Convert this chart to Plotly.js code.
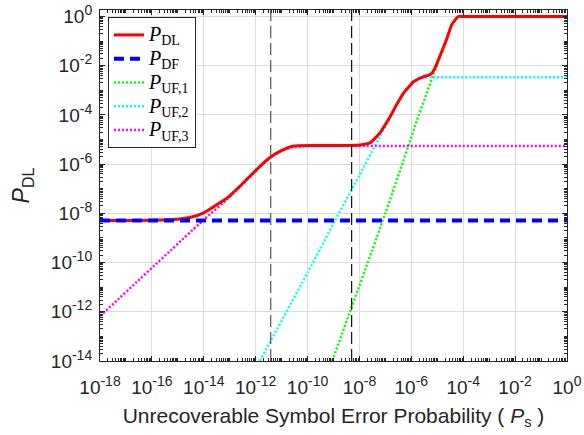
<!DOCTYPE html>
<html>
<head>
<meta charset="utf-8">
<script src="https://cdn.plot.ly/plotly-3.0.1.min.js"></script>
<style>html,body{margin:0;padding:0;background:#fff;}#chart{width:584px;height:435px;}</style>
</head>
<body>
<div id="chart"></div>
<script>
// ---- data ----
const psDL = [1e-18, 1e-17, 1e-16, 1e-15, 3.16e-15, 1e-14, 3.16e-14, 8.32e-14, 2.45e-13, 6.31e-13, 1.45e-12, 3.47e-12, 8.51e-12, 2.69e-11, 1.58e-10, 1e-9, 1.05e-8, 2.57e-8, 6.17e-8, 1.29e-7, 2.82e-7, 4.90e-7, 8.91e-7, 1.20e-6, 2.88e-6, 4.47e-6, 6.17e-6, 7.94e-6, 9.55e-6, 2.19e-5, 3.63e-5, 6.46e-5, 1e-4, 1];
const pDL  = [5.13e-9, 5.13e-9, 5.25e-9, 5.75e-9, 6.9e-9, 1.05e-8, 2.24e-8, 4.37e-8, 1.26e-7, 3.39e-7, 8.13e-7, 1.82e-6, 3.31e-6, 5.37e-6, 5.75e-6, 5.75e-6, 6.03e-6, 7.41e-6, 1.86e-5, 6.31e-5, 2.82e-4, 7.59e-4, 1.58e-3, 2.24e-3, 3.55e-3, 4.07e-3, 4.9e-3, 7.6e-3, 1.2e-2, 0.105, 0.468, 1, 1, 1];

const psDF = [1e-18, 1];
const pDF  = [5.13e-9, 5.13e-9];

const psUF1 = [8.91e-10, 7.94e-8, 7.59e-7, 1.62e-6, 1.10e-5, 2.19e-5, 3.63e-5, 5.62e-5, 7.94e-5, 1];
const pUF1  = [1e-14, 5.13e-9, 5.25e-6, 5.75e-5, 1.51e-2, 9.77e-2, 0.457, 0.891, 1, 1];

const psUF2 = [1.45e-12, 1e-10, 1.15e-9, 1e-8, 6.17e-8, 1.29e-7, 2.82e-7, 4.90e-7, 8.91e-7, 1.20e-6, 1.78e-6, 2.88e-6, 6.31e-6, 1];
const pUF2  = [1e-14, 3.89e-11, 5.13e-9, 3.55e-7, 1.32e-5, 5.75e-5, 2.88e-4, 7.41e-4, 1.45e-3, 2.09e-3, 2.88e-3, 3.31e-3, 3.39e-3, 3.39e-3];

const psUF3 = [1e-18, 1e-14, 8.32e-14, 2.45e-13, 6.31e-13, 1.45e-12, 3.47e-12, 8.51e-12, 2.69e-11, 1e-10, 1e-9, 1];
const pUF3  = [6.61e-13, 5.5e-9, 3.89e-8, 1.2e-7, 3.24e-7, 7.94e-7, 1.78e-6, 3.24e-6, 5.01e-6, 5.37e-6, 5.5e-6, 5.5e-6];

const markerPs = [3.8e-12, 5.0e-9];

const xTickVals = [1e-18, 1e-16, 1e-14, 1e-12, 1e-10, 1e-8, 1e-6, 1e-4, 1e-2, 1];
const xTickExp  = ['-18', '-16', '-14', '-12', '-10', '-8', '-6', '-4', '-2', '0'];
const yTickVals = [1e-14, 1e-12, 1e-10, 1e-8, 1e-6, 1e-4, 1e-2, 1];
const yTickExp  = ['-14', '-12', '-10', '-8', '-6', '-4', '-2', '0'];

const seriesNames = ['DL', 'DF', 'UF,1', 'UF,2', 'UF,3'];

// ---- helpers for text ----
const powLabel = e => '10<sup><span style="font-size:14px">' + e + '</span></sup>';
const legName = s => '<span style="font-size:20px"><i>P</i><sub>' + s + '</sub></span>';

// ---- traces ----
const dotted = '2px,2px';
const traces = [
  {x: psUF1, y: pUF1, name: legName(seriesNames[2]), legendrank: 3, mode: 'lines', line: {color: '#00ff00', width: 2.5, dash: dotted, shape: 'spline', smoothing: 0.4}},
  {x: psUF2, y: pUF2, name: legName(seriesNames[3]), legendrank: 4, mode: 'lines', line: {color: '#00ffff', width: 2.5, dash: dotted, shape: 'spline', smoothing: 0.4}},
  {x: psUF3, y: pUF3, name: legName(seriesNames[4]), legendrank: 5, mode: 'lines', line: {color: '#ff00ff', width: 2.5, dash: dotted, shape: 'spline', smoothing: 0.4}},
  {x: psDL, y: pDL, name: legName(seriesNames[0]), legendrank: 1, mode: 'lines', line: {color: '#ff0000', width: 3, shape: 'spline', smoothing: 0.5}},
  {x: psDF, y: pDF, name: legName(seriesNames[1]), legendrank: 2, mode: 'lines', line: {color: '#0000ff', width: 4, dash: '10px,6px'}}
];

const axisCommon = {
  type: 'log',
  tickmode: 'array',
  showline: true, linecolor: '#262626', linewidth: 1, mirror: 'allticks',
  ticks: 'inside', ticklen: 5, tickcolor: '#262626',
  showgrid: true, gridcolor: '#dcdcdc', gridwidth: 1,
  zeroline: false,
  tickfont: {family: 'Liberation Sans, Arial, sans-serif', size: 19, color: '#262626'},
  minor: {ticks: 'inside', ticklen: 3, tickcolor: '#262626', dtick: 'D1', showgrid: false}
};

const layout = {
  width: 584, height: 435,
  margin: {l: 100, r: 17, t: 10, b: 74},
  paper_bgcolor: '#fff', plot_bgcolor: '#fff',
  xaxis: Object.assign({}, axisCommon, {
    range: [-18, 0], tickvals: xTickVals, ticktext: xTickExp.map(powLabel),
    ticklabelstandoff: 9,
    title: {text: 'Unrecoverable Symbol Error Probability ( <i>P</i><sub>s</sub> )', font: {family: 'Liberation Sans, Arial, sans-serif', size: 21, color: '#262626'}, standoff: 11}
  }),
  yaxis: Object.assign({}, axisCommon, {
    range: [-14, 0.264], tickvals: yTickVals, ticktext: yTickExp.map(powLabel),
    ticklabelstandoff: 3,
    title: {text: '<i>P</i><sub>DL</sub>', font: {family: 'Liberation Sans, Arial, sans-serif', size: 23, color: '#262626'}, standoff: 14}
  }),
  legend: {
    x: 0.017, y: 0.98, xanchor: 'left', yanchor: 'top',
    bgcolor: '#ffffff', bordercolor: '#262626', borderwidth: 1,
    font: {family: 'Liberation Serif, Times New Roman, serif', size: 16, color: '#000'},
    tracegroupgap: 0, itemwidth: 30
  },
  showlegend: true,
  shapes: markerPs.map((v, i) => ({
    type: 'line', xref: 'x', yref: 'paper', x0: v, x1: v, y0: 0, y1: 1, layer: 'above',
    line: {color: i === 0 ? '#555' : '#111', width: 1.2, dash: '12px,5px'}
  }))
};

Plotly.newPlot('chart', traces, layout, {staticPlot: true, displayModeBar: false});
</script>
</body>
</html>
